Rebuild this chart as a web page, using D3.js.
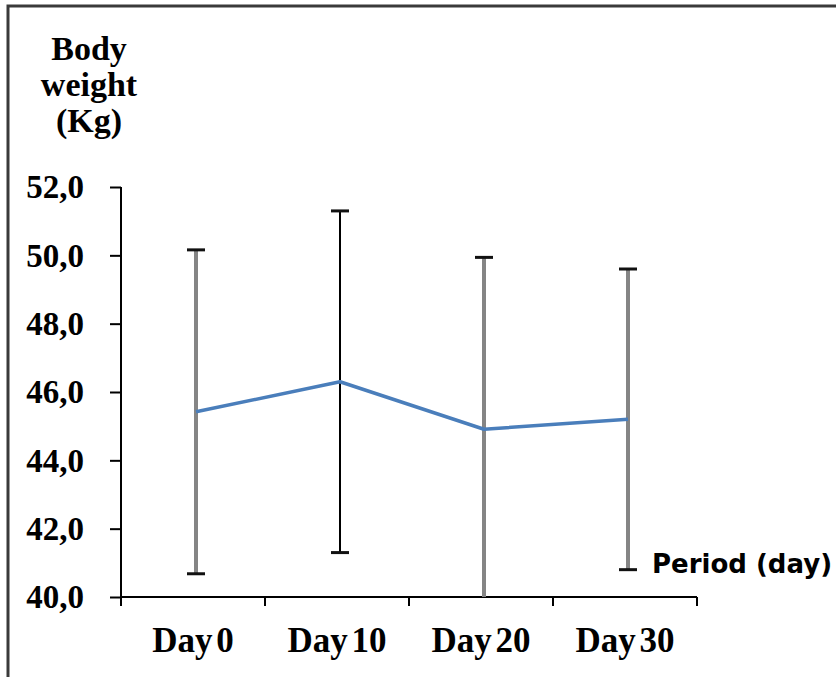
<!DOCTYPE html>
<html>
<head>
<meta charset="utf-8">
<script src="https://cdn.jsdelivr.net/npm/d3@7"></script>
<style>
  html, body { margin: 0; padding: 0; background: #fff; }
  svg { display: block; }
</style>
</head>
<body>
<svg id="chart" width="836" height="677"></svg>
<script>
// --- data ---
const days = ["Day 0", "Day 10", "Day 20", "Day 30"];
const meanWeight = [45.42, 46.3, 44.91, 45.2];
const sdWeight = [4.74, 5.0, 5.03, 4.4];
const barKind = ["gray", "black", "gray", "gray"];   // error bar style per day
const yTicks = [40, 42, 44, 46, 48, 50, 52];
const yTitle = ["Body", "weight", "(Kg)"];

const svg = d3.select("#chart");
const W = 836, H = 677;
const plot = { left: 121, right: 697, top: 187, bottom: 597 };
const serif = "'Liberation Serif', 'Times New Roman', serif";

// frame around the picture (only top & left show)
svg.append("rect")
    .attr("x", 8).attr("y", 6).attr("width", W + 20).attr("height", H + 20)
    .attr("fill", "none").attr("stroke", "#3a3a3a").attr("stroke-width", 3);

const x = d3.scaleBand().domain(days).range([plot.left, plot.right]).padding(0);
const y = d3.scaleLinear().domain([40, 52]).range([plot.bottom, plot.top]);
const cx = d => x(d) + x.bandwidth() / 2 + 3;

const fmt = v => d3.format(".1f")(v).replace(".", ",");

// y axis
const yAxis = svg.append("g")
    .attr("transform", `translate(${plot.left},0)`)
    .call(d3.axisLeft(y).tickValues(yTicks).tickSize(11).tickSizeOuter(0).tickFormat(fmt));
yAxis.select(".domain").attr("stroke", "#000").attr("stroke-width", 2)
    .attr("d", `M0,${plot.top}V${plot.bottom + 8}`);
yAxis.selectAll(".tick line").attr("stroke", "#000").attr("stroke-width", 2);
yAxis.selectAll(".tick text")
    .attr("x", -37).attr("dy", "0.33em")
    .attr("fill", "#000")
    .style("font-family", serif)
    .style("font-size", "33px").style("font-weight", "700");

// x axis: ticks on category boundaries
const xBounds = days.map(d => x(d)).concat([plot.right]);
const xAxis = svg.append("g").attr("transform", `translate(0,${plot.bottom})`);
xAxis.append("line").attr("x1", plot.left).attr("x2", plot.right)
    .attr("stroke", "#000").attr("stroke-width", 2);
xAxis.selectAll("line.tk").data(xBounds).enter().append("line").attr("class", "tk")
    .attr("x1", d => d).attr("x2", d => d).attr("y1", 0).attr("y2", 9)
    .attr("stroke", "#000").attr("stroke-width", 2);
xAxis.selectAll("text").data(days).enter().append("text")
    .attr("x", d => x(d) + x.bandwidth() / 2).attr("y", 55)
    .attr("text-anchor", "middle").attr("fill", "#000")
    .style("font-family", serif)
    .style("font-size", "35px").style("font-weight", "700").style("word-spacing", "-5px")
    .text(d => d);

// clip so bars cannot go below the x axis
svg.append("clipPath").attr("id", "plotClip").append("rect")
    .attr("x", plot.left).attr("y", 0).attr("width", plot.right - plot.left + 40).attr("height", plot.bottom);

const rows = days.map((d, i) => ({ day: d, mean: meanWeight[i], sd: sdWeight[i], kind: barKind[i] }));
const marks = svg.append("g").attr("clip-path", "url(#plotClip)");

// error bars
marks.selectAll("line.err").data(rows).enter().append("line").attr("class", "err")
    .attr("x1", d => cx(d.day)).attr("x2", d => cx(d.day))
    .attr("y1", d => y(d.mean + d.sd)).attr("y2", d => y(d.mean - d.sd))
    .attr("stroke", d => d.kind === "gray" ? "#858585" : "#000")
    .attr("stroke-width", d => d.kind === "gray" ? 4 : 2);

const caps = [];
rows.forEach(d => {
    caps.push({ day: d.day, v: d.mean + d.sd });
    caps.push({ day: d.day, v: d.mean - d.sd });
});
marks.selectAll("line.cap").data(caps.filter(c => c.v >= 40)).enter().append("line").attr("class", "cap")
    .attr("x1", d => cx(d.day) - 9).attr("x2", d => cx(d.day) + 9)
    .attr("y1", d => y(d.v)).attr("y2", d => y(d.v))
    .attr("stroke", "#111").attr("stroke-width", 3);

// mean line
const line = d3.line().x(d => cx(d.day)).y(d => y(d.mean));
svg.append("path").datum(rows)
    .attr("d", line).attr("fill", "none")
    .attr("stroke", "#4a7ebb").attr("stroke-width", 3.5).attr("stroke-linejoin", "round");

// y title
svg.append("text")
    .attr("text-anchor", "middle").attr("fill", "#000")
    .style("font-family", serif)
    .style("font-size", "34px").style("font-weight", "700")
    .selectAll("tspan").data(yTitle).enter().append("tspan")
    .attr("x", 89).attr("y", (d, i) => 60 + i * 36)
    .text(d => d);

// x title
svg.append("text")
    .attr("x", 652).attr("y", 573).attr("fill", "#000")
    .style("font-family", "'DejaVu Sans', Verdana, sans-serif")
    .style("font-size", "26px").style("font-weight", "700")
    .text("Period (day)");
</script>
</body>
</html>
